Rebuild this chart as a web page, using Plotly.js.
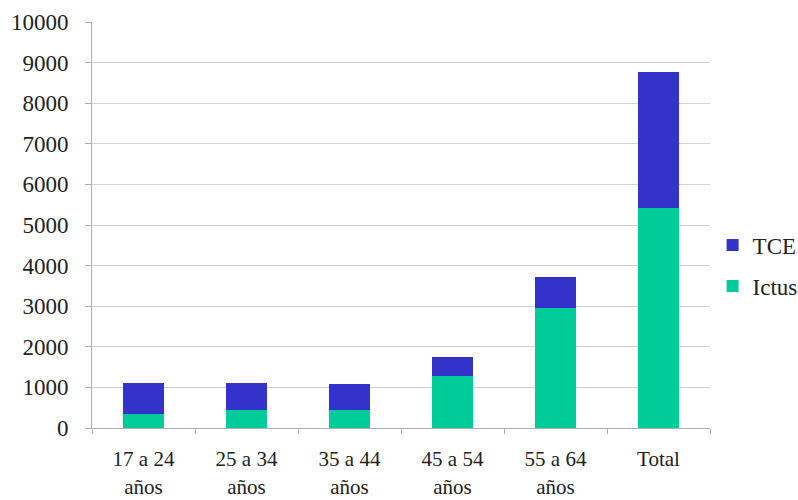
<!DOCTYPE html>
<html>
<head>
<meta charset="utf-8">
<script src="https://cdn.plot.ly/plotly-3.0.1.min.js"></script>
<style>html,body{margin:0;padding:0;background:#fff}#chart{width:798px;height:500px}</style>
</head>
<body>
<div id="chart"></div>
<script>
var categories = ["17 a 24<br>años", "25 a 34<br>años", "35 a 44<br>años", "45 a 54<br>años", "55 a 64<br>años", "Total"];
var ictus = [350, 432, 448, 1278, 2967, 5416];
var tce = [765, 666, 635, 478, 742, 3355];
var yTicks = [0, 1000, 2000, 3000, 4000, 5000, 6000, 7000, 8000, 9000, 10000];

var fam = "Liberation Serif, Times New Roman, serif";
var xfont = {family: fam, size: 21, color: "#222"};
var yfont = {family: fam, size: 23, color: "#222"};
var lfont = {family: fam, size: 23, color: "#222"};

var data = [
  {type: "bar", name: "Ictus", legendgroup: "b", legendrank: 2, x: categories, y: ictus, marker: {color: "#00CC99"}},
  {type: "bar", name: "TCE", legendgroup: "a", legendrank: 1, x: categories, y: tce, marker: {color: "#3333CC"}}
];

var layout = {
  width: 798, height: 500,
  margin: {l: 92, r: 88, t: 22, b: 72, autoexpand: false},
  barmode: "stack",
  bargap: 0.6,
  paper_bgcolor: "#fff",
  plot_bgcolor: "#fff",
  font: xfont,
  showlegend: true,
  legend: {xref: "container", x: 0.893, xanchor: "left", y: 0.40, yanchor: "middle", traceorder: "grouped",
           font: lfont, itemwidth: 30, tracegroupgap: 8},
  xaxis: {
    type: "category",
    showline: true, linecolor: "#b0b0b0", linewidth: 1,
    ticks: "outside", tickson: "boundaries", ticklen: 5, tickcolor: "#b0b0b0",
    ticklabelstandoff: 12,
    tickfont: xfont, showgrid: false, zeroline: false
  },
  yaxis: {
    range: [0, 10000],
    tickvals: yTicks, ticktext: yTicks.map(String),
    showline: true, linecolor: "#b0b0b0", linewidth: 1,
    ticks: "outside", ticklen: 6, tickcolor: "#b0b0b0",
    ticklabelstandoff: 12,
    showgrid: true, gridcolor: "#d0d0d0", gridwidth: 1,
    zeroline: false, tickfont: yfont
  }
};

Plotly.newPlot("chart", data, layout, {displayModeBar: false, staticPlot: true});
</script>
</body>
</html>
